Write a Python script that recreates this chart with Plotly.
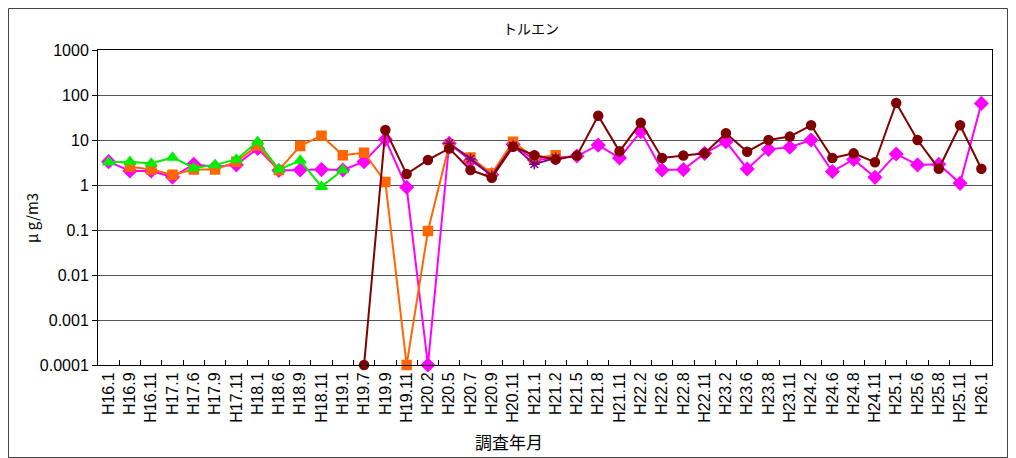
"""トルエン concentration chart (log scale, several monitoring points)."""
import plotly.graph_objects as go

MONTHS = [
    "H16.1", "H16.9", "H16.11", "H17.1", "H17.6", "H17.9", "H17.11", "H18.1",
    "H18.6", "H18.9", "H18.11", "H19.1", "H19.7", "H19.9", "H19.11", "H20.2",
    "H20.5", "H20.7", "H20.9", "H20.11", "H21.1", "H21.2", "H21.5", "H21.8",
    "H21.11", "H22.2", "H22.6", "H22.8", "H22.11", "H23.2", "H23.6", "H23.8",
    "H23.11", "H24.2", "H24.6", "H24.8", "H24.11", "H25.1", "H25.6", "H25.8",
    "H25.11", "H26.1",
]

N = None
MAGENTA = [
    3.3, 2.05, 2.05, 1.5, 2.9, 2.55, 2.8, 6.5,
    2.1, 2.15, 2.2, 2.15, 3.3, 10.4, 0.89, 0.0001,
    8.4, 3.5, 1.7, 8.0, 3.6, 4.0, 4.4, 7.7,
    4.0, 15.3, 2.15, 2.2, 5.05, 9.2, 2.27, 6.2,
    6.9, 10.0, 2.0, 3.7, 1.48, 4.9, 2.8, 2.9,
    1.09, 65.0,
]
ORANGE = [
    N, 2.55, 2.2, 1.7, 2.2, 2.2, 3.3, 7.5,
    2.15, 7.4, 12.5, 4.6, 5.2, 1.17, 0.0001, 0.095,
    7.8, 4.1, 1.8, 9.2, 4.0, 4.6,
] + [N] * 20
PURPLE = [N] * 16 + [8.5, 3.8, 1.6, 7.5, 2.9, 4.0] + [N] * 20
GREEN = [3.2, 3.3, 3.0, 4.1, 2.4, 2.8, 3.7, 9.2, 2.2, 3.5, 0.92, 2.15] + [N] * 30
DARKRED = [N] * 12 + [
    0.0001, 16.7, 1.75, 3.6,
    6.5, 2.15, 1.45, 7.1, 4.6, 3.7, 4.5, 34.6,
    5.6, 24.3, 3.98, 4.5, 5.05, 14.1, 5.5, 10.0,
    11.9, 21.2, 3.98, 5.05, 3.2, 66.5, 10.0, 2.3,
    21.2, 2.3,
]

# the page body adds an 8px margin, so the figure is drawn 8px smaller
OFF = 8
W, H = 1016 - OFF, 458 - OFF
L, T = 98 - OFF, 50 - OFF
R = W - (992 - OFF)
B = H - (365 - OFF)
PW, PH = W - L - R, H - T - B


def px_x(px):
    return (px - OFF - L) / PW


def px_y(py):
    return (H - B - (py - OFF)) / PH


fig = go.Figure()
series = [
    (MAGENTA, "#FF00FF", "diamond", 10),
    (ORANGE, "#FF6600", "square", 9),
    (PURPLE, "#800080", "asterisk-open", 9),
    (GREEN, "#00EE00", "triangle-up", 10),
    (DARKRED, "#800000", "circle", 9),
]
for vals, color, sym, size in series:
    fig.add_trace(go.Scatter(
        x=MONTHS, y=vals, mode="lines+markers",
        line=dict(color=color, width=2),
        marker=dict(symbol=sym, size=size, color=color,
                    line=dict(color=color, width=1.5)),
        cliponaxis=False, showlegend=False,
    ))

fig.update_xaxes(
    type="category", categoryorder="array", categoryarray=MONTHS,
    range=[-0.5, len(MONTHS) - 0.5],
    tickangle=-90, ticks="inside", tickson="boundaries", ticklen=5,
    tickcolor="black", showline=True, linecolor="black", linewidth=1,
    mirror=True, showgrid=False,
    tickfont=dict(family="Liberation Sans, Arial", size=16, color="black"),
)
fig.update_yaxes(
    type="log", range=[-4, 3],
    tickvals=[0.0001, 0.001, 0.01, 0.1, 1, 10, 100, 1000],
    ticktext=["0.0001", "0.001", "0.01", "0.1", "1", "10", "100", "1000"],
    ticks="outside", ticklen=5, tickcolor="black",
    showline=True, linecolor="black", linewidth=1, mirror=True,
    showgrid=True, gridcolor="#555555", gridwidth=1,
    tickfont=dict(family="Liberation Sans, Arial", size=16, color="black"),
)

fig.add_annotation(
    text="トルエン", xref="paper", yref="paper",
    x=px_x(531), y=px_y(28), xanchor="center", yanchor="middle",
    showarrow=False,
    font=dict(family="Noto Sans CJK JP", size=14, color="black"),
)
fig.add_annotation(
    text="調査年月", xref="paper", yref="paper",
    x=px_x(509), y=px_y(441), xanchor="center", yanchor="middle",
    showarrow=False,
    font=dict(family="Noto Sans CJK JP", size=17, color="black"),
)
fig.add_annotation(
    text="μ g/m3", xref="paper", yref="paper", textangle=-90,
    x=px_x(31), y=px_y(218), xanchor="center", yanchor="middle",
    showarrow=False,
    font=dict(family="Noto Sans CJK JP", size=15, color="black"),
)
fig.add_shape(
    type="rect", xref="paper", yref="paper",
    x0=px_x(8.5), x1=px_x(1007.5), y0=px_y(457.5), y1=px_y(8.5),
    line=dict(color="#444444", width=1), layer="below",
)

fig.update_layout(
    width=W, height=H,
    margin=dict(l=L, r=R, t=T, b=B),
    plot_bgcolor="white", paper_bgcolor="white",
)
fig.write_html("out.html")
